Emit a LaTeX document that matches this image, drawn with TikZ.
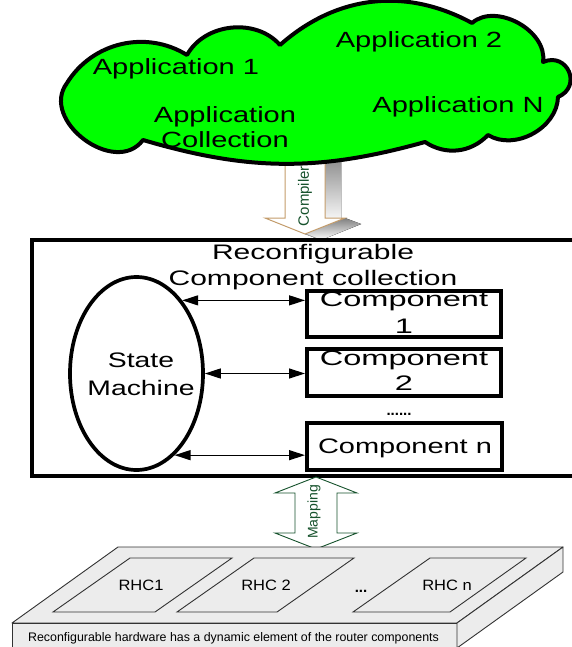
\documentclass[tikz,border=0pt]{standalone}
\usepackage{fontspec}
\setmainfont{Liberation Sans}
\usetikzlibrary{arrows.meta,shapes.geometric}
\definecolor{cloudgreen}{RGB}{0,255,0}
\definecolor{tanline}{RGB}{196,156,106}
\definecolor{shade}{RGB}{165,165,165}
\definecolor{darkgreen}{RGB}{22,82,44}
\definecolor{slab}{RGB}{236,236,236}
\definecolor{slabedge}{RGB}{50,50,50}
\tikzset{
  thickline/.style={line width=3.8pt},
  cloudtext/.style={inner sep=0pt, align=center, font=\fontsize{22}{25}\selectfont\addfontfeature{FakeStretch=1.32}},
  boxtext/.style={inner sep=0pt, align=center, font=\fontsize{21}{26}\selectfont\addfontfeature{FakeStretch=1.43}},
  smtext/.style={inner sep=0pt, align=center, font=\fontsize{21}{28}\selectfont\addfontfeature{FakeStretch=1.35}},
  comptext/.style={inner sep=0pt, font=\fontsize{21}{26}\selectfont\addfontfeature{FakeStretch=1.55}},
  compntext/.style={inner sep=0pt, font=\fontsize{21}{26}\selectfont\addfontfeature{FakeStretch=1.38}},
  compbox/.style={draw, line width=4pt, minimum width=194pt, minimum height=46pt, inner sep=0pt},
  biarrow/.style={line width=1.3pt, {Triangle[length=16pt,width=10pt]}-{Triangle[length=16pt,width=10pt]}},
  arrowlabel/.style={inner sep=0pt, text=darkgreen, rotate=90},
  rhc/.style={draw=slabedge, line width=0.9pt, fill=slab},
  rhctext/.style={inner sep=0pt, anchor=base, font=\fontsize{15}{18}\selectfont\addfontfeature{FakeStretch=1.1}},
}
\begin{document}
\begin{tikzpicture}[x=1pt,y=-1pt]
\useasboundingbox (0,0) rectangle (572,647);

% compiler block arrow: extruded grey side, then the white front face
\fill[shade] (301,156) -- (341,156) -- (341,224) -- (361,224) -- (321,240) -- (281,224) -- (301,224) -- cycle;
\fill[shade] (325,150) -- (341,156) -- (341,224) -- (325,218) -- cycle;
\fill[shade] (345,218) -- (361,224) -- (321,240) -- (305,234) -- cycle;
\fill[shade] (265,218) -- (281,224) -- (321,240) -- (305,234) -- cycle;
\draw[tanline, fill=white, line width=1pt] (285,150) -- (325,150) -- (325,218) -- (345,218) -- (305,234) -- (265,218) -- (285,218) -- cycle;

% application cloud
\draw[line width=4pt, fill=cloudgreen, line join=round]
  (143,140) to[bend left=90, looseness=1.25] (67,83)
  to[bend left=45] (187,55)
  to[bend left=55] (280,45)
  to[bend left=35] (472,23)
  to[bend left=70] (543,62)
  to[bend left=90, looseness=1.8] (558,97)
  to[bend left=60] (488,135)
  to[bend left=40] (425,142)
  to[bend left=16] (143,140) -- cycle;
\node[cloudtext, anchor=base] (app1) at (176,75) {Application 1};
\node[cloudtext, anchor=base] (app2) at (419,48) {Application 2};
\node[cloudtext, anchor=base] (appn) at (458,113) {Application N};
\node[cloudtext] (appcoll) at (225,127.5) {Application\\Collection};

\node[arrowlabel, font=\fontsize{15}{18}\selectfont] (compiler) at (305,196) {Compiler};

% reconfigurable component collection
\node[draw, thickline, fill=white, anchor=north west, minimum width=550pt, minimum height=236pt, inner sep=0pt] (rcc) at (30,238) {};
\node[boxtext] (rcctitle) at (313,266.6) {Reconfigurable\\Component collection};
\node[draw, ellipse, line width=3.7pt, minimum width=133pt, minimum height=193pt, inner sep=0pt] (sm) at (136.5,373.5) {};
\node[smtext] (smtitle) at (141,374.4) {State\\Machine};

\node[compbox] (c1) at (404,314) {};
\node[compbox, minimum height=47pt] (c2) at (404,372.5) {};
\node[compbox, minimum height=47pt, minimum width=195pt] (cn) at (404.5,446.5) {};
\node[comptext, anchor=base] (c1a) at (404,306) {Component};
\node[comptext, anchor=base] (c1b) at (404,333) {1};
\node[comptext, anchor=base] (c2a) at (404,365) {Component};
\node[comptext, anchor=base] (c2b) at (404,390) {2};
\node[compntext, anchor=base] (cnt) at (405,453) {Component n};
\node[inner sep=0pt, font=\fontsize{15}{18}\selectfont\bfseries, anchor=base] (dots) at (399,415) {......};

\draw[biarrow] (sm.58) -- (sm.58 -| c1.west);
\draw[biarrow] (sm.east) -- (sm.east -| c2.west);
\draw[biarrow] (sm.-65.5) -- (sm.-65.5 -| cn.west);

% mapping double arrow
\draw[darkgreen, fill=white, line width=0.9pt]
  (316,477) -- (357,493) -- (337,493) -- (337,533) -- (357,533) -- (316,549)
  -- (275,533) -- (295,533) -- (295,493) -- (275,493) -- cycle;
\node[arrowlabel, font=\fontsize{14}{17}\selectfont] (mapping) at (314,512) {Mapping};

% reconfigurable hardware slab
\draw[rhc, line join=round] (12,623) -- (118,547) -- (563,547) -- (457,623) -- cycle;
\draw[rhc] (12,623) rectangle (457,662);
\draw[rhc, line join=round] (457,623) -- (563,547) -- (563,572) -- (457,648) -- cycle;
\draw[rhc] (53,612) -- (155,612) -- (232,558) -- (130,558) -- cycle;
\draw[rhc] (177,612) -- (277,612) -- (354,558) -- (254,558) -- cycle;
\draw[rhc] (353,612) -- (450,612) -- (526,558) -- (430,558) -- cycle;
\node[rhctext] (rhc1) at (141,590) {RHC1};
\node[rhctext] (rhc2) at (266,590) {RHC 2};
\node[rhctext] (rhcn) at (447,590) {RHC n};
\node[inner sep=0pt, anchor=base, font=\fontsize{15}{18}\selectfont\bfseries] (rhcdots) at (361,592) {...};
\node[inner sep=0pt, anchor=base, font=\fontsize{12.4}{15}\selectfont] (hwnote) at (233.5,641)
  {Reconfigurable hardware has a dynamic element of the router components};
\end{tikzpicture}
\end{document}
